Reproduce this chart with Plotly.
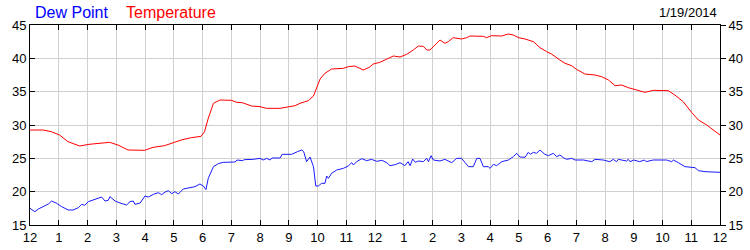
import plotly.graph_objects as go

# Hours since midnight and readings
temp_hours = [0, 0.45, 0.74, 1.03, 1.32, 1.73, 2.05, 2.6, 2.77, 3.06, 3.41, 3.99, 4.28, 4.68, 5.03, 5.26, 5.61, 5.95,
              6.07, 6.2, 6.38, 6.61, 7.01, 7.19, 7.38, 7.71, 8.0, 8.23, 8.7, 9.04, 9.22, 9.39, 9.68, 9.86, 9.97,
              10.09, 10.26, 10.49, 10.9, 11.07, 11.3, 11.59, 11.8, 11.94, 12.17, 12.35, 12.64, 12.87, 13.1, 13.33,
              13.51, 13.68, 13.8, 13.91, 14.09, 14.26, 14.43, 14.55, 14.72, 15.01, 15.19, 15.3, 15.77, 15.88, 16.06,
              16.4, 16.64, 16.81, 16.99, 17.22, 17.51, 17.74, 17.97, 18.14, 18.43, 18.61, 18.84, 19.01, 19.3, 19.65,
              19.88, 20.12, 20.35, 20.58, 20.81, 21.1, 21.39, 21.68, 22.2, 22.43, 22.72, 23.01, 23.25, 23.54, 23.83, 24.0]
temperature = [29.25, 29.25, 29.0, 28.5, 27.5, 26.85, 27.1, 27.4, 27.4, 27.0, 26.25, 26.2, 26.65, 26.9, 27.4, 27.75,
               28.1, 28.3, 29.0, 31.0, 33.25, 33.75, 33.7, 33.4, 33.35, 32.85, 32.75, 32.5, 32.5, 32.7, 32.9, 33.25,
               33.65, 34.35, 35.5, 36.9, 37.75, 38.4, 38.5, 38.75, 38.85, 38.25, 38.65, 39.15, 39.4, 39.75, 40.35,
               40.2, 40.6, 41.25, 41.85, 41.8, 41.25, 41.25, 42.0, 42.75, 42.25, 42.5, 43.1, 42.9, 43.1, 43.35, 43.3,
               43.1, 43.4, 43.35, 43.65, 43.5, 43.1, 42.9, 42.5, 41.6, 41.0, 40.65, 39.75, 39.25, 38.9, 38.35, 37.65,
               37.5, 37.25, 36.75, 35.9, 36.0, 35.6, 35.25, 34.9, 35.2, 35.15, 34.5, 33.5, 31.9, 30.75, 30.0, 29.1, 28.5]

dew_hours = [0, 0.17, 0.29, 0.46, 0.64, 0.75, 0.93, 1.1, 1.33, 1.5, 1.68, 1.8, 1.9, 2.03, 2.2, 2.38, 2.49, 2.61, 2.72,
             2.78, 2.96, 3.13, 3.36, 3.48, 3.59, 3.65, 3.83, 4.0, 4.12, 4.29, 4.46, 4.58, 4.7, 4.81, 4.93, 5.04, 5.16,
             5.33, 5.57, 5.74, 5.91, 6.03, 6.12, 6.2, 6.38, 6.55, 6.72, 7.13, 7.2, 7.4, 7.45, 7.77, 8.0, 8.11, 8.23,
             8.35, 8.42, 8.7, 8.77, 9.1, 9.3, 9.45, 9.52, 9.62, 9.74, 9.86, 9.94, 10.03, 10.14, 10.26, 10.32, 10.38,
             10.49, 10.67, 10.9, 11.07, 11.19, 11.25, 11.36, 11.54, 11.71, 11.88, 12.06, 12.24, 12.41, 12.52, 12.7,
             12.87, 13.04, 13.15, 13.22, 13.31, 13.4, 13.51, 13.68, 13.8, 13.86, 13.95, 14.03, 14.26, 14.43, 14.67,
             14.84, 15.01, 15.25, 15.42, 15.54, 15.65, 15.77, 15.94, 16.0, 16.12, 16.23, 16.41, 16.64, 16.81, 16.93,
             17.04, 17.22, 17.33, 17.4, 17.51, 17.62, 17.74, 17.91, 18.03, 18.2, 18.32, 18.43, 18.55, 18.67, 18.84,
             18.96, 19.25, 19.54, 19.65, 19.94, 20.17, 20.29, 20.4, 20.46, 20.75, 20.81, 20.87, 21.0, 21.2, 21.38,
             21.43, 21.68, 22.14, 22.32, 22.38, 22.55, 22.78, 23.13, 23.25, 23.48, 23.77, 24.0]
dew_point = [17.5, 17.0, 17.4, 17.75, 18.15, 18.6, 18.25, 17.75, 17.25, 17.25, 17.6, 18.1, 17.95, 18.5, 18.75, 19.0,
             19.2, 18.6, 18.7, 19.25, 18.6, 18.3, 18.0, 18.5, 18.6, 18.1, 18.3, 19.35, 19.2, 19.6, 19.85, 19.55, 19.95,
             20.15, 19.7, 20.0, 19.65, 20.4, 20.6, 20.75, 21.15, 20.85, 20.3, 22.0, 23.75, 24.2, 24.4, 24.45, 24.75,
             24.65, 24.8, 24.85, 25.0, 24.75, 25.0, 24.75, 25.05, 25.05, 25.6, 25.6, 26.0, 26.25, 26.0, 24.5, 25.2,
             23.75, 20.85, 20.85, 21.25, 21.25, 22.35, 22.0, 22.75, 23.25, 23.5, 23.85, 24.35, 24.0, 24.5, 24.95,
             24.65, 24.85, 24.55, 24.7, 24.35, 23.9, 24.05, 24.35, 23.9, 24.5, 23.9, 24.9, 24.4, 24.6, 24.5, 25.0,
             24.5, 25.4, 24.75, 24.6, 24.85, 24.35, 25.0, 25.0, 23.75, 23.75, 25.0, 25.0, 23.75, 23.75, 23.5, 24.1,
             23.9, 24.5, 24.75, 25.25, 25.75, 25.2, 25.15, 25.9, 25.6, 25.9, 25.75, 26.25, 25.6, 25.4, 25.75, 25.25,
             25.5, 25.1, 24.85, 25.0, 24.75, 24.75, 24.5, 24.85, 24.75, 24.5, 24.85, 24.5, 24.85, 24.6, 24.85, 24.5,
             24.75, 24.5, 24.75, 24.5, 24.75, 24.75, 24.5, 24.75, 24.35, 23.75, 23.6, 23.15, 23.0, 23.0, 22.9]

x_tickvals = list(range(0, 25))
x_ticktext = ["12", "1", "2", "3", "4", "5", "6", "7", "8", "9", "10", "11",
              "12", "1", "2", "3", "4", "5", "6", "7", "8", "9", "10", "11", "12"]
y_tickvals = [15, 20, 25, 30, 35, 40, 45]
date_label = "1/19/2014"

FONT = "Liberation Sans, Arial, sans-serif"

fig = go.Figure()
fig.add_trace(go.Scatter(x=temp_hours, y=temperature, mode="lines",
                         line=dict(color="#ff0000", width=1), name="Temperature"))
fig.add_trace(go.Scatter(x=dew_hours, y=dew_point, mode="lines",
                         line=dict(color="#1a1aff", width=1), name="Dew Point"))
# invisible trace to activate right axis
fig.add_trace(go.Scatter(x=[0], y=[15], yaxis="y2", mode="markers",
                         marker=dict(opacity=0), showlegend=False, hoverinfo="skip"))

fig.update_layout(
    width=750, height=250,
    margin=dict(l=30, r=30, t=25, b=25),
    paper_bgcolor="white", plot_bgcolor="white",
    showlegend=False,
    font=dict(family=FONT, size=13, color="black"),
    xaxis=dict(range=[0, 24], tickvals=x_tickvals, ticktext=x_ticktext,
               showgrid=True, gridcolor="#d0d0d0", gridwidth=1,
               showline=True, linecolor="black", linewidth=1, mirror="ticks",
               ticks="inside", ticklen=5, tickcolor="black", zeroline=False,
               automargin=False,
               tickfont=dict(family=FONT, size=13)),
    yaxis=dict(range=[15, 45], tickvals=y_tickvals,
               showgrid=True, gridcolor="#d0d0d0", gridwidth=1,
               showline=True, linecolor="black", linewidth=1, mirror=True,
               ticks="inside", ticklen=5, tickcolor="black", zeroline=False,
               automargin=False,
               tickfont=dict(family=FONT, size=13)),
    yaxis2=dict(range=[15, 45], tickvals=y_tickvals, overlaying="y", side="right",
                showgrid=False, showline=False, zeroline=False,
                ticks="outside", ticklen=5, tickcolor="black",
                automargin=False,
                tickfont=dict(family=FONT, size=13)),
    annotations=[
        dict(text="Dew Point", x=33, y=12, xref="paper", yref="paper", showarrow=False,
             font=dict(family=FONT, size=16, color="#0000ff"), xanchor="left", yanchor="middle"),
        dict(text="Temperature", x=124, y=12, xref="paper", yref="paper", showarrow=False,
             font=dict(family=FONT, size=16, color="#ff0000"), xanchor="left", yanchor="middle"),
        dict(text=date_label, x=719, y=12, xref="paper", yref="paper", showarrow=False,
             font=dict(family=FONT, size=13, color="black"), xanchor="right", yanchor="middle"),
    ],
)

# convert pixel positions of header annotations into paper coordinates
pw, ph = 750 - 60, 250 - 50
for a in fig.layout.annotations:
    a.x = (a.x - 30) / pw
    a.y = 1 + (25 - a.y) / ph

fig.write_html("out.html")
